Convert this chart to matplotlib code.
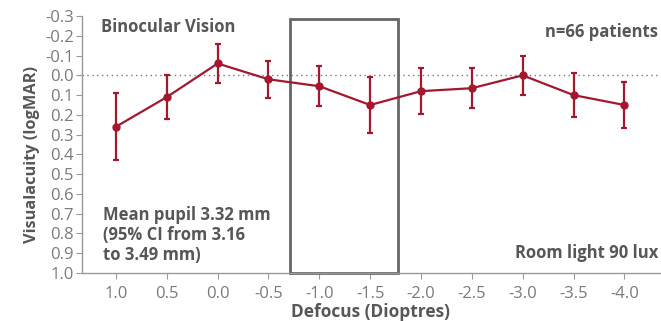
import matplotlib
matplotlib.use("Agg")
import matplotlib.pyplot as plt
from matplotlib.patches import Rectangle
from matplotlib.ticker import FormatStrFormatter

# Defocus (D) vs visual acuity (logMAR), mean with 95% CI half-widths
defocus = [1.0, 0.5, 0.0, -0.5, -1.0, -1.5, -2.0, -2.5, -3.0, -3.5, -4.0]
logmar = [0.26, 0.11, -0.06, 0.02, 0.055, 0.15, 0.08, 0.065, 0.0, 0.10, 0.15]
ci = [0.17, 0.11, 0.10, 0.095, 0.10, 0.14, 0.115, 0.10, 0.10, 0.11, 0.115]

xticks = [1.0, 0.5, 0.0, -0.5, -1.0, -1.5, -2.0, -2.5, -3.0, -3.5, -4.0]
yticks = [-0.3, -0.2, -0.1, 0.0, 0.1, 0.2, 0.3, 0.4, 0.5, 0.6, 0.7, 0.8, 0.9, 1.0]

RED = "#a3172f"
GREY = "#575757"
TICK = "#7a7a7a"

plt.rcParams["font.family"] = ["Open Sans", "DejaVu Sans"]

fig = plt.figure(figsize=(6.61, 3.21), dpi=100)
ax = fig.add_axes([0.124, 0.1495, 0.8745, 0.8005])

ax.axhline(0, color="#777777", lw=1, ls=(0, (1, 2.5)), zorder=1)
ax.errorbar(defocus, logmar, yerr=ci, color=RED, lw=1.6, marker="o", ms=5,
            elinewidth=1.6, capsize=2, capthick=1.6, zorder=3)

# highlighted defocus range
ax.add_patch(Rectangle((-0.71, -0.285), -1.06, 1.285, fill=False,
                       edgecolor="#666666", lw=2, zorder=2, clip_on=False))

ax.set_xlim(1.334, -4.35)
ax.set_ylim(1.0, -0.3)
ax.set_xticks(xticks)
ax.set_yticks(yticks)
ax.xaxis.set_major_formatter(FormatStrFormatter("%.1f"))
ax.yaxis.set_major_formatter(FormatStrFormatter("%.1f"))

for side in ("top", "right"):
    ax.spines[side].set_visible(False)
for side in ("left", "bottom"):
    ax.spines[side].set_color("#999999")
    ax.spines[side].set_linewidth(1)
ax.tick_params(colors="#999999", labelcolor=TICK, labelsize=12, length=4)
ax.tick_params(axis="x", pad=5)
ax.tick_params(axis="y", pad=2)

ax.set_xlabel("Defocus (Dioptres)", fontsize=12.5, fontweight="bold", color=GREY, labelpad=1)
ax.set_ylabel("Visualacuity (logMAR)", fontsize=11.8, fontweight="bold", color=GREY, labelpad=3)
ax.yaxis.set_label_coords(-0.072, 0.46)

ax.text(101, 321 - 27, "Binocular Vision", transform=None, fontsize=12,
        fontweight="bold", color=GREY, va="center", ha="left")
ax.text(658, 321 - 32, "n=66 patients", transform=None, fontsize=12,
        fontweight="bold", color=GREY, va="center", ha="right")
ax.text(103, 321 - 235, "Mean pupil 3.32 mm\n(95% CI from 3.16\nto 3.49 mm)",
        transform=None, fontsize=12, fontweight="bold", color=GREY,
        va="center", ha="left", linespacing=1.15)
ax.text(658, 321 - 253, "Room light 90 lux", transform=None, fontsize=12,
        fontweight="bold", color=GREY, va="center", ha="right")

fig.savefig("out.png", dpi=100)
